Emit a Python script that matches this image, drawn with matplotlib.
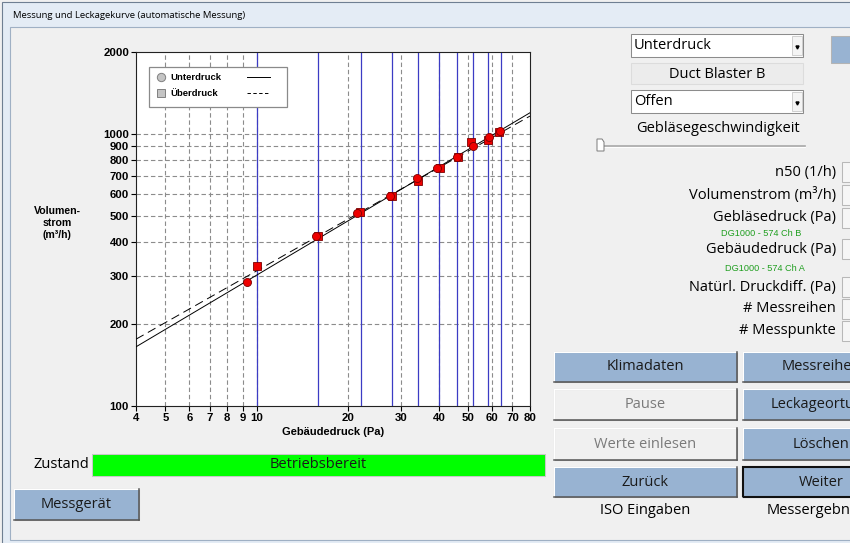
import matplotlib

matplotlib.use("Agg")
import matplotlib.pyplot as plt
from matplotlib.patches import Rectangle, Polygon
from matplotlib.lines import Line2D
from matplotlib.ticker import NullLocator

W, H = 850, 543

p_unter = [9.3, 15.7, 21.5, 27.6, 33.9, 39.5, 45.9, 51.9, 58.6, 63.7]
q_unter = [285, 422, 512, 591, 688, 749, 823, 903, 974, 1025]
p_ueber = [10.0, 16.0, 22.0, 28.0, 34.1, 40.3, 46.3, 51.0, 58.2, 63.0]
q_ueber = [327, 421, 517, 591, 671, 749, 823, 934, 950, 1016]
# target pressures (blue verticals)
p_target = [10.0, 16.0, 22.1, 28.0, 34.1, 40.1, 45.9, 51.9, 58.2, 64.2]
# leakage curves, values at the ends of the x range
curve_x = [4, 80]
curve_unter = [165, 1196]
curve_ueber = [176, 1163]

x_ticks = [4, 5, 6, 7, 8, 9, 10, 20, 30, 40, 50, 60, 70, 80]
y_ticks = [100, 200, 300, 400, 500, 600, 700, 800, 900, 1000, 2000]

field_labels = ["n50 (1/h)", "Volumenstrom (m³/h)", "Gebläsedruck (Pa)",
                "Gebäudedruck (Pa)", "Natürl. Druckdiff. (Pa)",
                "# Messreihen", "# Messpunkte"]

UI = "Open Sans"
CHART = "Liberation Sans"
BTN = "#98b3d2"

fig = plt.figure(figsize=(W / 100, H / 100), dpi=100, facecolor="#f0f0f0")


def fx(x):
    return x / W


def fy(y):
    return 1 - y / H


def rect(x0, y0, x1, y1, fc, ec="none", lw=0.75, z=1):
    fig.add_artist(Rectangle((fx(x0), fy(y1)), (x1 - x0) / W, (y1 - y0) / H,
                             transform=fig.transFigure, fc=fc, ec=ec, lw=lw, zorder=z))


def line(xs, ys, color, lw=0.75, z=2, **kw):
    fig.add_artist(Line2D([fx(v) for v in xs], [fy(v) for v in ys],
                          transform=fig.transFigure, color=color, lw=lw, zorder=z, **kw))


def text(x, y, s, size=10.5, family=UI, **kw):
    kw.setdefault("va", "center")
    fig.text(fx(x), fy(y), s, fontsize=size, family=family, zorder=6, **kw)


def button(x0, y0, x1, y1, label, enabled=True, strong=False):
    rect(x0, y0, x1, y1, BTN if enabled else "#f0f0f0", ec="#b4b4b4")
    line([x0, x1], [y0, y0], "white")
    line([x0, x0], [y0, y1], "white")
    line([x0, x1], [y1, y1], "#555555", lw=1.1)
    line([x1, x1], [y0, y1], "#555555", lw=1.1)
    if strong:
        rect(x0, y0, x1, y1, "none", ec="#111111", lw=1.5, z=3)
    text((x0 + x1) / 2, (y0 + y1) / 2, label, color="#1a1a1a" if enabled else "#7a7a7a",
         ha="center")


# -- window frame ----------------------------------------------------------------
rect(2, 2, 870, 560, "#e4ecf5", ec="#6f7f92", lw=0.8, z=-3)
rect(10, 27, 870, 540, "#f0f0f0", ec="#9fb0c4", lw=0.8, z=-2)
text(13, 15, "Messung und Leckagekurve (automatische Messung)", size=6.8)

# -- chart -----------------------------------------------------------------------
ax = fig.add_axes([fx(136), fy(406), (530 - 136) / W, (406 - 52) / H])
ax.set_zorder(1)
ax.set_facecolor("white")
ax.set_xscale("log")
ax.set_yscale("log")
ax.set_xlim(4, 80)
ax.set_ylim(100, 2000)

for v in x_ticks[1:-1]:
    ax.axvline(v, color="#8c8c8c", lw=0.8, ls=(0, (4, 2.5)), zorder=1)
for v in y_ticks[1:-1]:
    ax.axhline(v, color="#8c8c8c", lw=0.8, ls=(0, (4, 2.5)), zorder=1)
for p in p_target:
    ax.axvline(p, color="#3c3cc4", lw=0.9, zorder=2)

ax.plot(curve_x, curve_unter, color="black", lw=0.7, zorder=3)
ax.plot(curve_x, curve_ueber, color="black", lw=0.7, ls=(0, (9, 5)), zorder=3)
ax.plot(p_ueber, q_ueber, "s", ms=5.4, mfc="#ee0000", mec="#7a0000", mew=0.6, zorder=4)
ax.plot(p_unter, q_unter, "o", ms=5.8, mfc="#ee0000", mec="#7a0000", mew=0.6, zorder=5)

ax.xaxis.set_minor_locator(NullLocator())
ax.yaxis.set_minor_locator(NullLocator())
ax.set_xticks(x_ticks, [str(v) for v in x_ticks])
ax.set_yticks(y_ticks, [str(v) for v in y_ticks])
ax.tick_params(length=3.5, width=0.8, pad=1.5, color="black")
for lab in ax.get_xticklabels() + ax.get_yticklabels():
    lab.set_fontsize(8.2)
    lab.set_fontweight("bold")
    lab.set_family(CHART)
for s in ax.spines.values():
    s.set_linewidth(0.8)
    s.set_color("#222222")

text(333, 432, "Gebäudedruck (Pa)", size=8, family=CHART, weight="bold", ha="center")
text(57, 223, "Volumen-\nstrom\n(m³/h)", size=7.6, family=CHART, weight="bold",
     ha="center", linespacing=1.25)

# legend box drawn on top of the axes
rect(149, 67, 287, 107, "white", ec="#8a8a8a", lw=0.9, z=5)
fig.add_artist(Line2D([fx(161)], [fy(77)], transform=fig.transFigure, marker="o", ms=6,
                      mfc="#c4c4c4", mec="#808080", mew=0.7, zorder=6))
fig.add_artist(Line2D([fx(161)], [fy(93)], transform=fig.transFigure, marker="s", ms=5.5,
                      mfc="#c4c4c4", mec="#808080", mew=0.7, zorder=6))
text(170, 77, "Unterdruck", size=6.8, family=CHART, weight="bold")
text(170, 93, "Überdruck", size=6.8, family=CHART, weight="bold")
line([247, 270], [77, 77], "black", lw=0.7, z=6)
line([247, 270], [93, 93], "black", lw=0.7, z=6, ls=(0, (3.5, 2.5)))

# -- status ----------------------------------------------------------------------
text(89, 465, "Zustand", ha="right")
rect(92, 454, 545, 476, "#00ff00", ec="#c8c8c8")
text(318, 465, "Betriebsbereit", ha="center", color="#1a1a1a")
button(14, 489, 139, 520, "Messgerät")

# -- right panel -----------------------------------------------------------------
for y0, y1, s in ((34, 57, "Unterdruck"), (90, 113, "Offen")):
    rect(631, y0, 803, y1, "white", ec="#8c8c8c")
    rect(792, y0 + 2, 802, y1 - 2, "#f4f4f4", ec="#c8c8c8", lw=0.6)
    fig.add_artist(Line2D([fx(797)], [fy((y0 + y1) / 2 + 1)], transform=fig.transFigure,
                          marker="v", ms=2.2, color="black", zorder=6))
    text(634, (y0 + y1) / 2, s)
rect(631, 63, 803, 84, "#ececec", ec="#dcdcdc")
text(717, 74, "Duct Blaster B", ha="center")
text(718, 128, "Gebläsegeschwindigkeit", ha="center")
line([600, 805], [146, 146], "#a8a8a8", lw=1.2)
line([600, 805], [147.5, 147.5], "white", lw=0.7)
fig.add_artist(Polygon([(fx(597), fy(139)), (fx(602), fy(139)), (fx(604), fy(142)),
                        (fx(604), fy(151)), (fx(597), fy(151))], closed=True,
                       transform=fig.transFigure, fc="white", ec="#7a7a7a", lw=0.7, zorder=5))
rect(831, 36, 870, 63, BTN, ec="#b4b4b4")

field_y = [172, 195, 218, 249, 287, 309, 331]
for s, y in zip(field_labels, field_y):
    text(836, y, s, ha="right")
    rect(842, y - 10, 870, y + 10, "#f6f6f6", ec="#b8b8b8")
text(761, 234, "DG1000 - 574 Ch B", size=6.6, family=CHART, color="#1f9e1f", ha="center")
text(765, 268, "DG1000 - 574 Ch A", size=6.6, family=CHART, color="#1f9e1f", ha="center")

# -- buttons ---------------------------------------------------------------------
button(554, 352, 737, 382, "Klimadaten")
button(554, 389, 737, 420, "Pause", enabled=False)
button(554, 428, 737, 460, "Werte einlesen", enabled=False)
button(554, 467, 737, 497, "Zurück")
text(645, 511, "ISO Eingaben", ha="center")
button(743, 352, 900, 382, "Messreihen")
button(743, 389, 900, 420, "Leckageortung")
button(743, 428, 900, 460, "Löschen")
button(743, 467, 900, 497, "Weiter", strong=True)
text(821, 511, "Messergebnisse", ha="center")

fig.savefig("out.png", dpi=100, facecolor=fig.get_facecolor())
